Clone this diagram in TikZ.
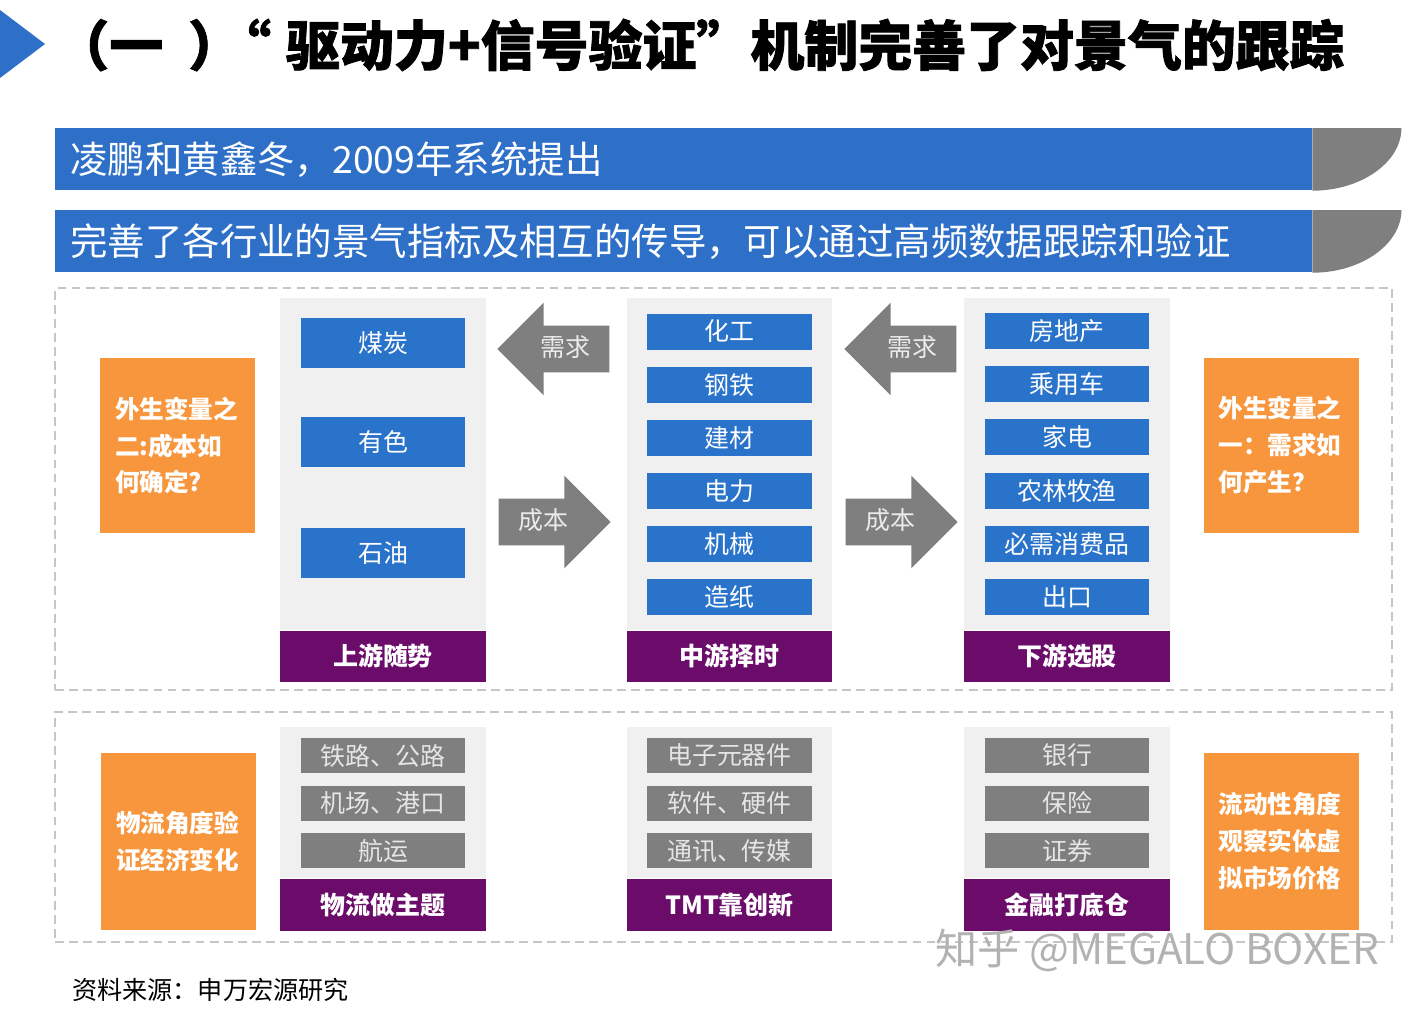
\documentclass[tikz,border=0pt]{standalone}
\usepackage{xcolor}
\usepackage{fontspec}
\setmainfont{Noto Sans CJK SC}
\newfontfamily\titlefont{Noto Sans CJK SC}[BoldFeatures={FakeBold=1.5}]
\usepackage{tikz}
\usetikzlibrary{positioning,shapes.arrows}
\definecolor{swblue}{HTML}{2E70C8}
\definecolor{sectorblue}{HTML}{2A73CB}
\definecolor{capgrey}{HTML}{7F7F7F}
\definecolor{itemgrey}{HTML}{7F7F7F}
\definecolor{panelgrey}{HTML}{F0F0F0}
\definecolor{stagepurple}{HTML}{6B0C6B}
\definecolor{exoorange}{HTML}{F7963D}
\definecolor{framegrey}{HTML}{C6C6C6}
\tikzset{
  titletext/.style={
    anchor=west,
    inner sep=0pt,
    font=\titlefont\bfseries\fontsize{30.7}{34}\selectfont
  },
  banner/.style={
    fill=swblue,
    text=white,
    anchor=north west,
    align=left,
    text width=24.54cm,
    minimum height=1.24cm,
    inner xsep=0.3cm,
    inner ysep=0pt,
    font=\fontsize{21.3}{24}\selectfont
  },
  dashframe/.style={
    draw=framegrey,
    line width=0.9pt,
    dash pattern=on 5pt off 3pt
  },
  panel/.style={
    fill=panelgrey,
    minimum width=4.12cm,
    inner sep=0pt
  },
  sectorbox/.style={
    fill=sectorblue,
    text=white,
    minimum width=3.3cm,
    minimum height=0.72cm,
    inner sep=0pt,
    font=\fontsize{14.2}{17}\selectfont
  },
  themebox/.style={
    sectorbox,
    fill=itemgrey,
    text=white!90!black,
    minimum height=0.7cm
  },
  stagebar/.style={
    fill=stagepurple,
    text=white,
    minimum width=4.12cm,
    minimum height=1.02cm,
    inner sep=0pt,
    font=\bfseries\fontsize{14.2}{17}\selectfont
  },
  exobox/.style={
    fill=exoorange,
    text=white,
    align=left,
    text width=2.5cm,
    minimum width=3.1cm,
    inner xsep=0.3cm,
    font=\bfseries\fontsize{14}{21}\selectfont
  },
  flowarrow/.style={
    shape=single arrow,
    fill=capgrey,
    text=white!92!black,
    single arrow head extend=0.46cm,
    single arrow tip angle=90,
    minimum height=2.24cm,
    minimum width=1.84cm,
    text height=11pt,
    text depth=2pt,
    inner ysep=6.6pt,
    inner xsep=2pt,
    font=\fontsize{14.2}{17}\selectfont
  },
  sourcetext/.style={
    anchor=west,
    inner sep=0pt,
    font=\fontsize{14.3}{17}\selectfont
  },
  watermark/.style={
    anchor=west,
    inner sep=0pt,
    text=black!30,
    font=\fontsize{24}{28}\selectfont
  }
}

\begin{document}
\begin{tikzpicture}[x=0.02cm, y=-0.02cm, node distance=0.33cm]
  \useasboundingbox (0,0) rectangle (1416,1008);
  \fill[white] (0,0) rectangle (1416,1008);

  \fill[swblue] (0,10) -- (45,44) -- (0,78) -- cycle;
  \node[titletext] (title) at (55,45) {（一\hspace{0.5cm}）\hspace{-0.5cm}“\hspace{0.3cm}驱动力+信号验证”机制完善了对景气的跟踪};

  \node[banner] (bannerA) at (55,128) {凌鹏和黄鑫冬，2009年系统提出};
  \fill[capgrey] (bannerA.north east) -- ++(89,0) .. controls +(0,34) and +(49,0) .. (bannerA.south east) -- cycle;
  \node[banner] (bannerB) at (55,210) {完善了各行业的景气指标及相互的传导，可以通过高频数据跟踪和验证};
  \fill[capgrey] (bannerB.north east) -- ++(89,0) .. controls +(0,34) and +(49,0) .. (bannerB.south east) -- cycle;

  \node[dashframe, minimum width=26.74cm, minimum height=8.04cm] (upperframe) at (723.5,489) {};
  \node[dashframe, minimum width=26.74cm, minimum height=4.6cm] (lowerframe) at (723.5,827) {};

  \node[exobox, minimum height=3.5cm] (costq) at (177.5,445.5) {外生变量之\\二:成本如\\何确定?};
  \node[exobox, minimum height=3.5cm] (demandq) at (1281,445.5) {外生变量之\\一：需求如\\何产生？};

  \node[panel, minimum height=6.64cm] (uppanel) at (383,464) {};
  \node[sectorbox, minimum height=1cm] (coal) at (383,343) {煤炭};
  \node[sectorbox, minimum height=1cm] (nonfer) at (383,442) {有色};
  \node[sectorbox, minimum height=1cm] (oil) at (383,553) {石油};
  \node[stagebar, below=0pt of uppanel] (upstage) {上游随势};

  \node[panel, minimum height=6.64cm] (midpanel) at (729.5,464) {};
  \node[sectorbox] (chem) at (729.5,331.5) {化工};
  \node[sectorbox, below=of chem] (steel) {钢铁};
  \node[sectorbox, below=of steel] (build) {建材};
  \node[sectorbox, below=of build] (power) {电力};
  \node[sectorbox, below=of power] (machine) {机械};
  \node[sectorbox, below=of machine] (paper) {造纸};
  \node[stagebar, below=0pt of midpanel] (midstage) {中游择时};

  \node[panel, minimum height=6.64cm] (downpanel) at (1067,464) {};
  \node[sectorbox] (estate) at (1067,331) {房地产};
  \node[sectorbox, below=of estate] (car) {乘用车};
  \node[sectorbox, below=of car] (appliance) {家电};
  \node[sectorbox, below=of appliance] (farm) {农林牧渔};
  \node[sectorbox, below=of farm] (staples) {必需消费品};
  \node[sectorbox, below=of staples] (export) {出口};
  \node[stagebar, below=0pt of downpanel] (downstage) {下游选股};

  \node[flowarrow, shape border rotate=180] (demandA) at (565,349) {需求};
  \node[flowarrow] (costA) at (543,522) {成本};
  \node[flowarrow, shape border rotate=180] (demandB) at (912,349) {需求};
  \node[flowarrow] (costB) at (890,522) {成本};

  \node[exobox, minimum height=3.54cm] (logq) at (178.5,841.5) {物流角度验\\证经济变化};
  \node[exobox, minimum height=3.54cm] (liqq) at (1281,841.5) {流动性角度\\观察实体虚\\拟市场价格};

  \node[panel, minimum height=3.02cm] (logpanel) at (383,802.5) {};
  \node[themebox] (rail) at (383,755.5) {铁路、公路};
  \node[themebox, below=0.24cm of rail] (port) {机场、港口};
  \node[themebox, below=0.24cm of port] (ship) {航运};
  \node[stagebar, minimum height=1.04cm, below=0pt of logpanel] (logstage) {物流做主题};

  \node[panel, minimum height=3.02cm] (tmtpanel) at (729.5,802.5) {};
  \node[themebox] (parts) at (729.5,755.5) {电子元器件};
  \node[themebox, below=0.24cm of parts] (soft) {软件、硬件};
  \node[themebox, below=0.24cm of soft] (media) {通讯、传媒};
  \node[stagebar, minimum height=1.04cm, below=0pt of tmtpanel] (tmtstage) {TMT靠创新};

  \node[panel, minimum height=3.02cm] (finpanel) at (1067,802.5) {};
  \node[themebox] (bank) at (1067,755.5) {银行};
  \node[themebox, below=0.24cm of bank] (insure) {保险};
  \node[themebox, below=0.24cm of insure] (broker) {证券};
  \node[stagebar, minimum height=1.04cm, below=0pt of finpanel] (finstage) {金融打底仓};

  \node[watermark] (mark) at (935,950) {知乎 @MEGALO BOXER};
  \node[sourcetext] (source) at (72,990) {资料来源：申万宏源研究};
\end{tikzpicture}
\end{document}
